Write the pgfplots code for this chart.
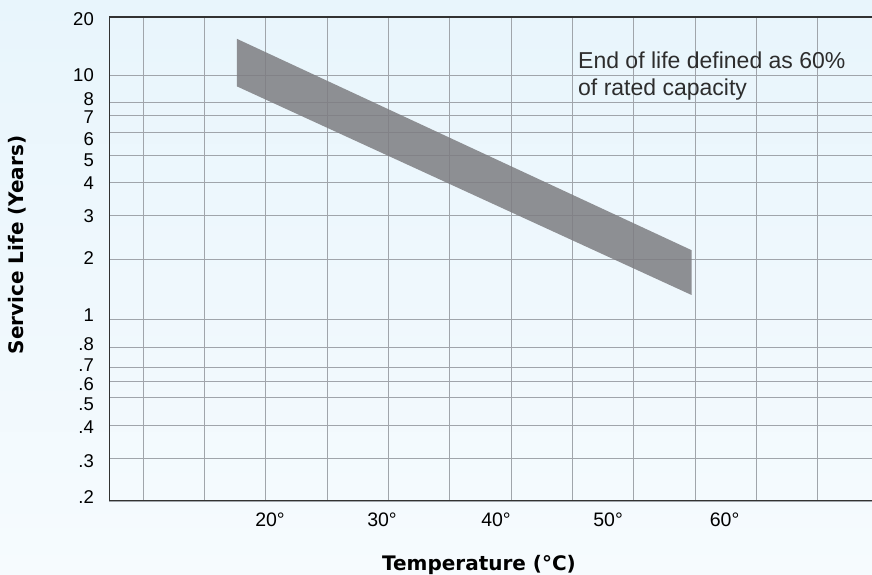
\documentclass[border=0pt]{standalone}
\usepackage{pgfplots}
\pgfplotsset{compat=1.18}
\usepackage{fontspec}
\setmainfont{Liberation Sans}
\newfontfamily\labfont{DejaVu Sans}
\usetikzlibrary{backgrounds}

\definecolor{bgtop}{RGB}{232,245,252}
\definecolor{bgbot}{RGB}{246,251,254}
\definecolor{gridcol}{RGB}{160,165,171}
\definecolor{spine}{RGB}{50,50,50}
\definecolor{band}{RGB}{125,125,129}
\definecolor{note}{RGB}{45,45,45}

% the printed y scale is only roughly logarithmic: interpolate log-wise
% between the drawn grid lines (value, pixel row in the original)
\newcommand\seg[4]{(#2+(#4-#2)*(log10(\ytv)-log10(#1))/(log10(#3)-log10(#1)))}
\newcommand\ytrafo[1]{%
  \begingroup
  \pgfkeys{/pgf/fpu=true}%
  \pgfmathparse{#1}%
  \pgfmathfloattofixed{\pgfmathresult}%
  \let\ytv\pgfmathresult
  \pgfkeys{/pgf/fpu=false}%
  \pgfmathparse{501-(\ytv<0.3?\seg{0.2}{501}{0.3}{458}:(%
    \ytv<0.4?\seg{0.3}{458}{0.4}{425}:(%
    \ytv<0.5?\seg{0.4}{425}{0.5}{397}:(%
    \ytv<0.6?\seg{0.5}{397}{0.6}{381}:(%
    \ytv<0.7?\seg{0.6}{381}{0.7}{367}:(%
    \ytv<0.8?\seg{0.7}{367}{0.8}{347}:(%
    \ytv<1?\seg{0.8}{347}{1}{319}:(%
    \ytv<2?\seg{1}{319}{2}{259}:(%
    \ytv<3?\seg{2}{259}{3}{215}:(%
    \ytv<4?\seg{3}{215}{4}{182}:(%
    \ytv<5?\seg{4}{182}{5}{155}:(%
    \ytv<6?\seg{5}{155}{6}{132}:(%
    \ytv<7?\seg{6}{132}{7}{115}:(%
    \ytv<8?\seg{7}{115}{8}{102}:(%
    \ytv<10?\seg{8}{102}{10}{75}:\seg{10}{75}{20}{17}%
    ))))))))))))))}%
  \global\let\ytres\pgfmathresult
  \endgroup
  \let\pgfmathresult\ytres}
% labels sit a little off their grid lines in the original
\newcommand\yl[2]{\smash{\raisebox{\dimexpr#1pt-6.6pt\relax}{#2}}}

\begin{document}
\begin{tikzpicture}
\begin{axis}[
    name=ax,
    scale only axis,
    width=763pt, height=484pt,
    xmin=7.23, xmax=69.41,
    y coord trafo/.code={\ytrafo{#1}},
    ymin=0.2, ymax=20,
    axis line style={draw=none},
    major tick length=0pt, minor tick length=0pt,
    xtick={20.35,29.48,38.77,47.9,57.4},
    xticklabels={20°,30°,40°,50°,60°},
    minor xtick={10,15,20,25,30,35,40,45,50,55,60,65},
    xminorgrids=true,
    ytick={0.2,0.3,0.4,0.5,0.6,0.7,0.8,1,2,3,4,5,6,7,8,10,20},
    yticklabels={\yl{4}{.2},\yl{-3}{.3},\yl{-2}{.4},\yl{-7}{.5},\yl{-3}{.6},
        \yl{2}{.7},\yl{3}{.8},\yl{4}{1},\yl{1}{2},\yl{-1}{3},\yl{-1}{4},
        \yl{-5}{5},\yl{-7}{6},\yl{-2}{7},\yl{3}{8},\yl{0}{10},\yl{-2}{20}},
    ymajorgrids=true,
    grid style={gridcol, line width=0.8pt},
    minor grid style={gridcol, line width=0.8pt},
    xticklabel style={font=\fontsize{19.5}{22}\selectfont, text=black,
        inner sep=0pt, anchor=north, yshift=-12pt},
    yticklabel style={font=\fontsize{18.5}{22}\selectfont, text=black,
        inner sep=0pt, anchor=east, xshift=-15pt},
    /pgf/number format/assume math mode=true,
]
% service life band: upper and lower limits
\addplot[draw=none, fill=band, fill opacity=0.85] coordinates {
    (17.66,15.4) (54.7,2.17) (54.7,1.32) (17.66,9.1)
} -- cycle;

\draw[spine, line width=2.8pt] (rel axis cs:1,1) -- (rel axis cs:0,1)
    -- (rel axis cs:0,0) -- (rel axis cs:1,0);

\node[anchor=base west, inner sep=0pt, text=note, font=\fontsize{23}{27}\selectfont]
    at (axis cs:45.45,10.87) {End of life defined as 60\%};
\node[anchor=base west, inner sep=0pt, text=note, font=\fontsize{23}{27}\selectfont]
    at (axis cs:45.45,8.47) {of rated capacity};
\end{axis}

\node[rotate=90, font=\labfont\bfseries\fontsize{20}{24}\selectfont]
    at ([xshift=-92pt, yshift=256pt]ax.south west) {Service Life (Years)};
\node[font=\labfont\bfseries\fontsize{20}{24}\selectfont]
    at ([xshift=370pt, yshift=-64pt]ax.south west) {Temperature (°C)};

\begin{pgfonlayer}{background}
\fill[top color=bgtop, bottom color=bgbot]
    ([xshift=-109pt, yshift=-74pt]ax.south west) rectangle ([yshift=17pt]ax.north east);
\end{pgfonlayer}
\pgfresetboundingbox
\useasboundingbox ([xshift=-109pt, yshift=-74pt]ax.south west) rectangle ([yshift=17pt]ax.north east);
\end{tikzpicture}
\end{document}
